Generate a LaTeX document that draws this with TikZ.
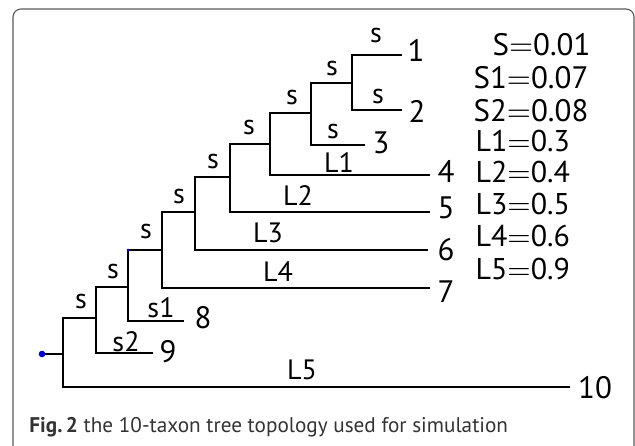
\documentclass[tikz,border=0pt]{standalone}
\usepackage{fontspec}
\setmainfont{PT Sans}
\begin{document}
\begin{tikzpicture}[x=1pt,y=-1pt,
  branch/.style={line width=1.7pt,black},
  blab/.style={inner sep=0pt,scale=2.8,transform shape},
  leaflab/.style={inner sep=0pt,scale=3.1,transform shape},
  legS/.style={inner sep=0pt,anchor=west,scale=3.1,transform shape},
  legL/.style={inner sep=0pt,anchor=west,scale=3.0,transform shape},
  capt/.style={inner sep=0pt,anchor=base west,text=black!80,scale=2.12,transform shape}]
\useasboundingbox (0,0) rectangle (635,446);
\begin{scope}
\clip (0,0) rectangle (635,446);
\draw[line width=1.1pt,black!65,rounded corners=8pt] (13,9) rectangle (634,480);
\end{scope}
% tree coordinates
\coordinate (n1) at (402,55);
\coordinate (n2) at (402,110);
\coordinate (A) at (352,83);
\coordinate (n3) at (365,145);
\coordinate (B) at (311,113);
\coordinate (n4) at (430,175);
\coordinate (C) at (270,144);
\coordinate (n5) at (430,212);
\coordinate (D) at (230,177);
\coordinate (n6) at (428,250);
\coordinate (E) at (195,212);
\coordinate (n7) at (430,288);
\coordinate (F) at (162,250);
\coordinate (n8) at (184,321);
\coordinate (G) at (128,287);
\coordinate (n9) at (153,353);
\coordinate (H) at (96,318);
\coordinate (n10) at (570,387);
\coordinate (R) at (63,354);
\coordinate (root) at (42,354);
% branches
\draw[branch] (A) |- (n1);
\draw[branch] (A) |- (n2);
\draw[branch] (B) |- (A);
\draw[branch] (B) |- (n3);
\draw[branch] (C) |- (B);
\draw[branch] (C) |- (n4);
\draw[branch] (D) |- (C);
\draw[branch] (D) |- (n5);
\draw[branch] (E) |- (D);
\draw[branch] (E) |- (n6);
\draw[branch] (F) |- (E);
\draw[branch] (F) |- (n7);
\draw[branch] (G) |- (F);
\draw[branch] (G) |- (n8);
\draw[branch] (H) |- (G);
\draw[branch] (H) |- (n9);
\draw[branch] (R) |- (H);
\draw[branch] (R) |- (n10);
\draw[branch] (root) -- (R);
\fill[blue!80!black] (root) circle (3.3);
\fill[blue!80!black] (128,250) circle (1.3);
% leaf labels
\node[leaflab] (l1) at (416,50) {1};
\node[leaflab] (l2) at (417,111) {2};
\node[leaflab] (l3) at (381,143) {3};
\node[leaflab] (l4) at (446,171) {4};
\node[leaflab] (l5) at (446,208) {5};
\node[leaflab] (l6) at (446,250) {6};
\node[leaflab] (l7) at (446,292) {7};
\node[leaflab] (l8) at (203,318) {8};
\node[leaflab] (l9) at (168,352) {9};
\node[leaflab] (l10) at (595,388) {10};
% branch labels
\node[blab] (b1) at (376,36) {s};
\node[blab] (b2) at (378,97) {s};
\node[blab] (b3) at (332,69) {s};
\node[blab] (b4) at (333,132) {s};
\node[blab] (b5) at (339,163) {L1};
\node[blab] (b6) at (292,98) {s};
\node[blab] (b7) at (249,128) {s};
\node[blab] (b8) at (213,162) {s};
\node[blab] (b9) at (298,196) {L2};
\node[blab] (b10) at (179,197) {s};
\node[blab] (b11) at (268,233) {L3};
\node[blab] (b12) at (146,232) {s};
\node[blab] (b13) at (278,272) {L4};
\node[blab] (b14) at (113,272) {s};
\node[blab] (b15) at (81,302) {s};
\node[blab] (b16) at (161,308) {s1};
\node[blab] (b17) at (126,342) {s2};
\node[blab] (b18) at (302,370) {L5};
% legend
\node[legS] (g1) at (492,45) {S$=$0.01};
\node[legS] (g2) at (473,78) {S1$=$0.07};
\node[legS] (g3) at (473,111) {S2$=$0.08};
\node[legL] (g4) at (475,141) {L1$=$0.3};
\node[legL] (g5) at (475,172) {L2$=$0.4};
\node[legL] (g6) at (475,204) {L3$=$0.5};
\node[legL] (g7) at (475,236) {L4$=$0.6};
\node[legL] (g8) at (475,269) {L5$=$0.9};
% caption
\node[capt] (cap) at (29,432) {\textbf{Fig.\,2} the 10-taxon tree topology used for simulation};
\end{tikzpicture}
\end{document}
